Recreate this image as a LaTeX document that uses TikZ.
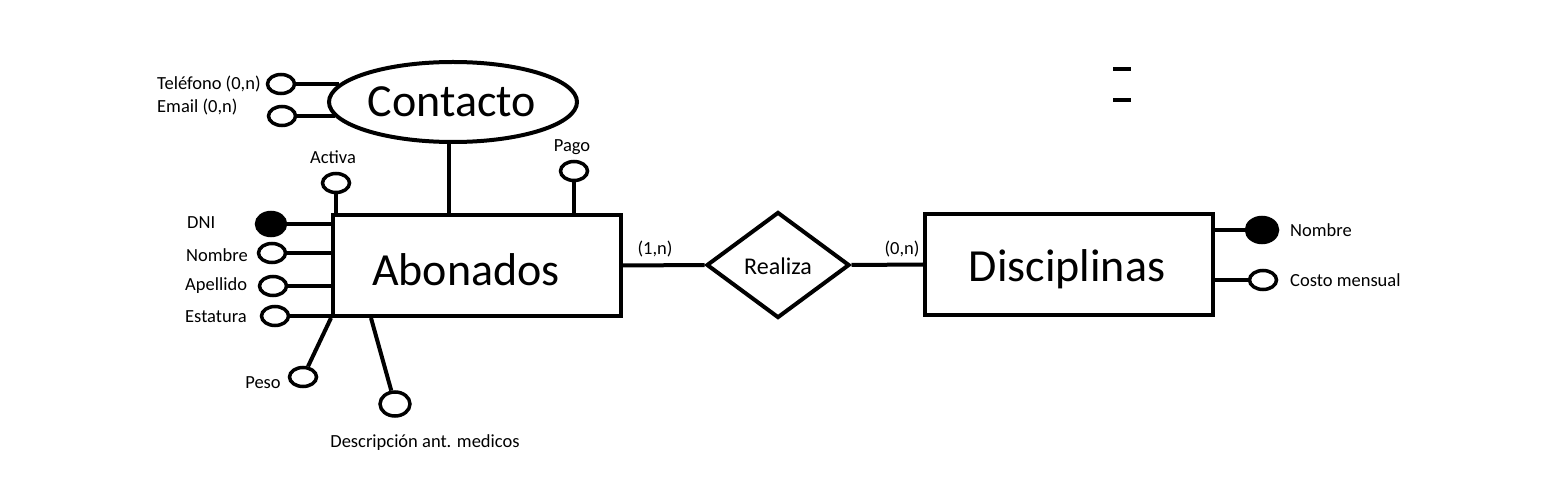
\documentclass[tikz,border=0pt]{standalone}
\usepackage{fontspec}
\setmainfont{Carlito}
\usetikzlibrary{shapes.geometric,calc}
\begin{document}
\begin{tikzpicture}[x=1pt,y=-1pt,
  lnk/.style={line width=4pt},
  entity/.style={draw,line width=4pt,rectangle,inner sep=0pt},
  bigtext/.style={font=\fontsize{46}{50}\selectfont,inner sep=0pt,anchor=base},
  reltext/.style={font=\fontsize{24}{28}\selectfont,inner sep=0pt,anchor=base},
  small/.style={font=\fontsize{18.5}{22}\selectfont,inner sep=0pt},
  attr/.style={draw,ellipse,line width=3.5pt,minimum width=27pt,minimum height=19pt,inner sep=0pt},
  keyattr/.style={attr,fill=black,minimum width=29pt,minimum height=23pt}]
\useasboundingbox[fill=white] (0,0) rectangle (1560,494);

% entities
\node[entity,minimum width=288pt,minimum height=101pt] (abo) at (477,265.5) {};
\node[bigtext] (abotxt) at (466,286) {Abonados};
\node[entity,minimum width=288pt,minimum height=101pt] (disc) at (1069,264.5) {};
\node[bigtext] (disctxt) at (1067,282) {Disciplinas};
\node[draw,ellipse,line width=4pt,minimum width=248pt,minimum height=80pt,inner sep=0pt] (contacto) at (453,102) {};
\node[bigtext] (contxt) at (452,117) {Contacto};
\node[draw,diamond,line width=4pt,minimum width=143pt,minimum height=106pt,inner sep=0pt,shape aspect=1.35] (realiza) at (778,265) {};
\node[reltext] (reltxt) at (778,275) {Realiza};

% attribute circles
\node[attr] (tel) at (281,84) {};
\node[attr] (email) at (282,116) {};
\node[attr] (activa) at (336,183) {};
\node[attr] (pago) at (574,171) {};
\node[keyattr] (dni) at (271,224) {};
\node[attr] (nombre) at (272,253) {};
\node[attr] (apellido) at (273,286) {};
\node[attr] (estatura) at (275,316) {};
\node[attr] (peso) at (303,377) {};
\node[attr,minimum width=30pt,minimum height=24pt] (desc) at (395,404) {};
\node[keyattr,minimum width=31pt,minimum height=25pt] (dnom) at (1262,230) {};
\node[attr] (costo) at (1263,280) {};

% connectors
\draw[lnk] (tel.east) -- (contacto.171 |- tel.east);
\draw[lnk] (email.east) -- (contacto.187 |- email.east);
\draw[lnk] ([xshift=-4pt]contacto.south) -- ([xshift=-4pt]contacto.south |- abo.north);
\draw[lnk] (activa.south) -- (activa.south |- abo.north);
\draw[lnk] (pago.south) -- (pago.south |- abo.north);
\draw[lnk] (dni.east) -- (dni.east -| abo.west);
\draw[lnk] (nombre.east) -- (nombre.east -| abo.west);
\draw[lnk] (apellido.east) -- (apellido.east -| abo.west);
\draw[lnk] (estatura.east) -- (estatura.east -| abo.west);
\draw[lnk] (abo.south west) -- (peso);
\draw[lnk] ([xshift=40pt]abo.south west) -- (desc);
\draw[lnk] (abo.east) -- (realiza.west);
\draw[lnk] (realiza.east) -- (disc.west);
\draw[lnk] (dnom.west -| disc.east) -- (dnom.west);
\draw[lnk] (costo.west -| disc.east) -- (costo.west);

% labels
\node[small,anchor=west] (ttel) at (157,84) {Teléfono (0,n)};
\node[small,anchor=west] (temail) at (157,107) {Email (0,n)};
\node[small] (tactiva) at (333,157) {Activa};
\node[small] (tpago) at (572,147) {Pago};
\node[small,anchor=west] (tdni) at (187,223) {DNI};
\node[small,anchor=west] (tnombre) at (186,255) {Nombre};
\node[small,anchor=west] (tapellido) at (185,286) {Apellido};
\node[small,anchor=west] (testatura) at (185,317) {Estatura};
\node[small] (tpeso) at (263,383) {Peso};
\node[small] (tdesc) at (425,443) {Descripción ant. medicos};
\node[small] (c1) at (655,249) {(1,n)};
\node[small] (c2) at (902,249) {(0,n)};
\node[small,anchor=west] (tdnom) at (1290,230) {Nombre};
\node[small,anchor=west] (tcosto) at (1290,280) {Costo mensual};

% two short marks
\draw[line width=4.5pt] (1113,69) -- (1131,69);
\draw[line width=4.5pt] (1113,100) -- (1131,100);
\end{tikzpicture}
\end{document}
